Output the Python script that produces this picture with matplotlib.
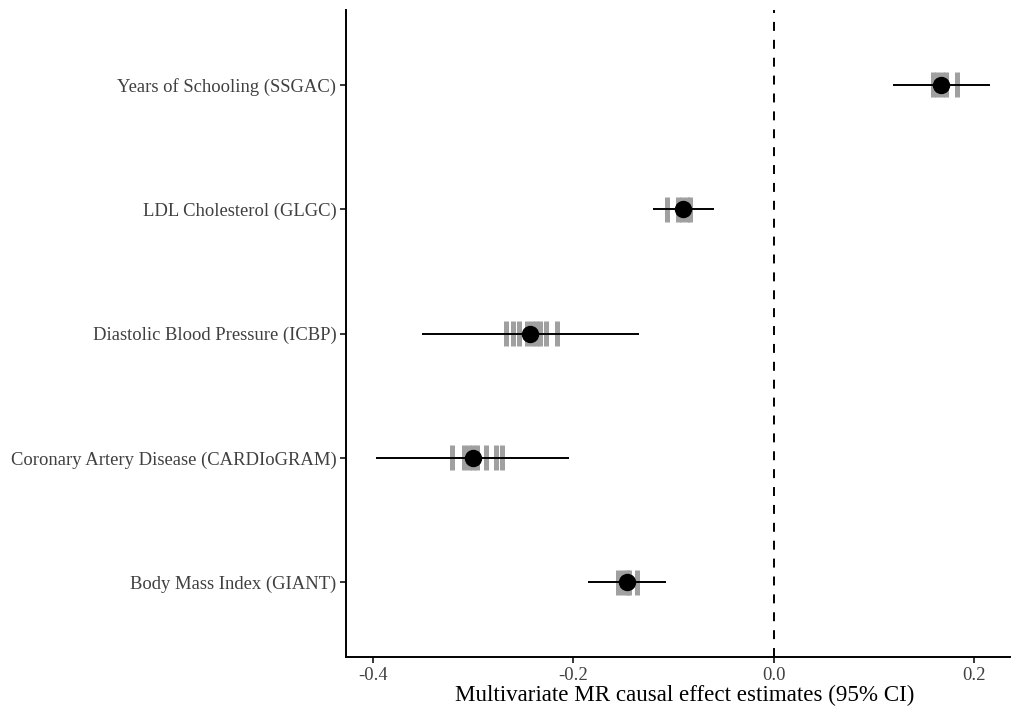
import matplotlib
matplotlib.use("Agg")
import matplotlib.pyplot as plt
import numpy as np

plt.rcParams['font.family'] = ['Liberation Serif', 'DejaVu Serif']

# Data (bottom to top)
exposures = ["Body Mass Index (GIANT)",
             "Coronary Artery Disease (CARDIoGRAM)",
             "Diastolic Blood Pressure (ICBP)",
             "LDL Cholesterol (GLGC)",
             "Years of Schooling (SSGAC)"]
estimate = [-0.1466, -0.3005, -0.2430, -0.0902, 0.1675]
ci_low = [-0.1858, -0.3970, -0.3515, -0.1204, 0.1194]
ci_high = [-0.1072, -0.2040, -0.1345, -0.0597, 0.2156]
# individual (grey) estimates per exposure
individual = [
    [-0.1552, -0.1507, -0.1463, -0.1443, -0.1360],
    [-0.3214, -0.3090, -0.3045, -0.3000, -0.2960, -0.2876, -0.2770, -0.2716],
    [-0.2672, -0.2604, -0.2540, -0.2463, -0.2418, -0.2378, -0.2333, -0.2269, -0.2159],
    [-0.1065, -0.0960, -0.0915, -0.0866, -0.0840],
    [0.1590, 0.1630, 0.1680, 0.1720, 0.1830],
]
xticks = [-0.4, -0.2, 0.0, 0.2]
xlabel = "Multivariate MR causal effect estimates (95% CI)"

fig = plt.figure(figsize=(10.12, 7.12), dpi=100)
ax = fig.add_axes([0.342, 0.0772, 0.656, 0.9088])

ypos = np.arange(1, len(exposures) + 1)

for y, vals in zip(ypos, individual):
    for v in vals:
        ax.plot([v, v], [y - 0.1, y + 0.1], color='#a0a0a0', lw=3.6,
                solid_capstyle='butt', zorder=1)

ax.axvline(0, color='black', lw=1.4, linestyle=(0, (4.6, 4.6)), zorder=2)

for y, lo, hi in zip(ypos, ci_low, ci_high):
    ax.plot([lo, hi], [y, y], color='black', lw=1.4, solid_capstyle='butt', zorder=3)

ax.plot(estimate, ypos, 'o', color='black', markersize=11.5, zorder=4)

ax.set_xlim(-0.427, 0.236)
ax.set_ylim(0.4, 5.6)
ax.set_yticks(ypos)
ax.set_yticklabels(exposures)
ax.set_xticks(xticks)
ax.set_xticklabels([f"{t:.1f}" for t in xticks])

for s in ['top', 'right']:
    ax.spines[s].set_visible(False)
for s in ['left', 'bottom']:
    ax.spines[s].set_linewidth(1.4)

ax.tick_params(axis='both', length=4, width=1.1, colors='black',
               labelcolor='#404040', labelsize=13.4, pad=3)
ax.set_xlabel(xlabel, fontsize=16.6, color='black')
ax.xaxis.set_label_coords(0.51, -0.059, transform=ax.transAxes)
ax.xaxis.label.set_va('center')

fig.savefig("out.png", dpi=100)
